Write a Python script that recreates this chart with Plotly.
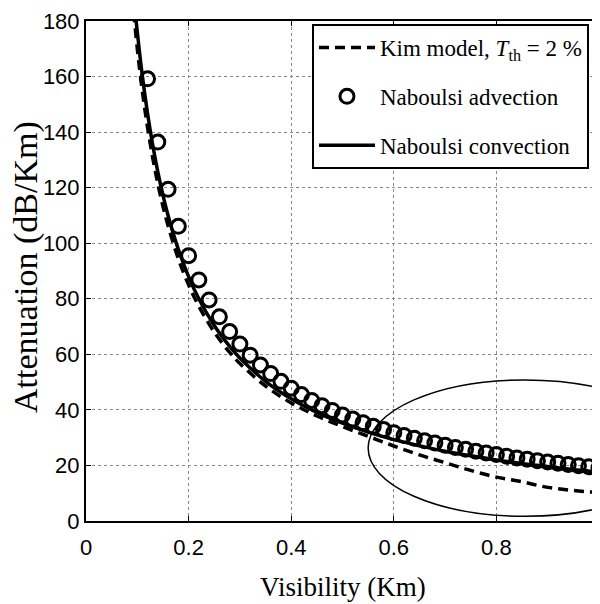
import plotly.graph_objects as go

# ---- data ----
vis_adv = [0.12, 0.14, 0.16, 0.18, 0.20, 0.22, 0.24, 0.26, 0.28, 0.30,
           0.32, 0.34, 0.36, 0.38, 0.40, 0.42, 0.44, 0.46, 0.48, 0.50,
           0.52, 0.54, 0.56, 0.58, 0.60, 0.62, 0.64, 0.66, 0.68, 0.70,
           0.72, 0.74, 0.76, 0.78, 0.80, 0.82, 0.84, 0.86, 0.88, 0.90,
           0.92, 0.94, 0.96, 0.98, 1.00]
att_adv = [159.2, 136.4, 119.4, 106.1, 95.5, 86.8, 79.6, 73.5, 68.2, 63.7,
           59.7, 56.2, 53.1, 50.3, 47.8, 45.5, 43.4, 41.5, 39.8, 38.2,
           36.7, 35.4, 34.1, 32.9, 31.8, 30.8, 29.8, 28.9, 28.1, 27.3,
           26.5, 25.8, 25.1, 24.5, 23.9, 23.3, 22.7, 22.2, 21.7, 21.2,
           20.8, 20.3, 19.9, 19.5, 19.1]

vis_line = [0.09, 0.10, 0.11, 0.12, 0.13, 0.14, 0.15, 0.16, 0.18, 0.20,
            0.22, 0.25, 0.28, 0.30, 0.35, 0.40, 0.45, 0.50, 0.55, 0.60,
            0.65, 0.70, 0.75, 0.80, 0.85, 0.90, 0.95, 1.00]
att_conv = [195.6, 176.0, 160.0, 146.7, 135.4, 125.7, 117.3, 110.0, 97.8, 88.0,
            80.0, 70.4, 62.9, 58.7, 50.3, 44.0, 39.1, 35.2, 32.0, 29.3,
            27.1, 25.1, 23.5, 22.0, 20.7, 19.6, 18.5, 17.6]
att_kim = [188.9, 170.0, 154.5, 141.7, 130.8, 121.4, 113.3, 106.3, 94.4, 85.0,
           77.3, 68.0, 60.7, 56.7, 48.6, 42.5, 37.8, 34.0, 30.5, 27.0,
           23.8, 21.0, 18.2, 15.8, 14.1, 12.1, 11.0, 10.2]

x_ticks = [0, 0.2, 0.4, 0.6, 0.8, 1]
x_tick_text = ["0", "0.2", "0.4", "0.6", "0.8", "1"]
y_ticks = [0, 20, 40, 60, 80, 100, 120, 140, 160, 180]

ellipse_x = [0.55, 1.16]
ellipse_y = [1.7, 50.8]

tick_font = dict(family="Liberation Sans, Arial, sans-serif", size=22, color="black")
serif = "Liberation Serif, Times New Roman, serif"

fig = go.Figure()
fig.add_trace(go.Scatter(
    x=vis_line, y=att_kim, mode="lines", line_shape="spline",
    name="Kim model, <i>T</i><sub>th</sub> = 2 %", legendgroup="a",
    line=dict(color="black", width=3.5, dash="10px,6px")))
fig.add_trace(go.Scatter(
    x=vis_adv, y=att_adv, mode="markers", name="Naboulsi advection",
    legendgroup="b",
    marker=dict(symbol="circle-open", size=14, color="black",
                line=dict(width=3, color="black"))))
fig.add_trace(go.Scatter(
    x=vis_line, y=att_conv, mode="lines", line_shape="spline",
    name="Naboulsi convection", legendgroup="c",
    line=dict(color="black", width=3.5)))

fig.add_shape(type="circle", xref="x", yref="y",
              x0=ellipse_x[0], x1=ellipse_x[1], y0=ellipse_y[0], y1=ellipse_y[1],
              line=dict(color="black", width=1.5), layer="above")

axis_common = dict(showline=True, linecolor="black", linewidth=2, mirror="ticks",
                   ticks="inside", ticklen=5, tickcolor="black", tickwidth=1,
                   showgrid=True, gridcolor="#8a8a8a", gridwidth=1, griddash="dot",
                   zeroline=False, tickfont=tick_font, automargin=False)

fig.update_xaxes(range=[0, 1], tickvals=x_ticks, ticktext=x_tick_text,
                 ticklabelstandoff=6, ticklabeloverflow="allow", **axis_common)
fig.update_yaxes(range=[0, 180], tickvals=y_ticks, **axis_common)

fig.add_annotation(text="Visibility (Km)", xref="paper", yref="paper",
                   x=0.5, y=-0.165, yanchor="bottom", showarrow=False,
                   font=dict(family=serif, size=27, color="black"))
fig.add_annotation(text="Attenuation (dB/Km)", xref="paper", yref="paper",
                   x=-0.117, xanchor="center", y=0.508, yanchor="middle",
                   textangle=-90, showarrow=False, borderpad=0,
                   font=dict(family=serif, size=34, color="black"))

# the page body has an 8px margin, so the figure is sized to fit the window
fig.update_layout(
    width=592, height=596,
    margin=dict(l=78, r=1, t=13, b=83, autoexpand=False),
    paper_bgcolor="white", plot_bgcolor="white",
    showlegend=True,
    legend=dict(x=0.4405, y=0.994, xanchor="left", yanchor="top",
                bgcolor="white", bordercolor="black", borderwidth=2,
                font=dict(family=serif, size=23, color="black"),
                itemwidth=56, tracegroupgap=16),
)

fig.write_html("out.html")
